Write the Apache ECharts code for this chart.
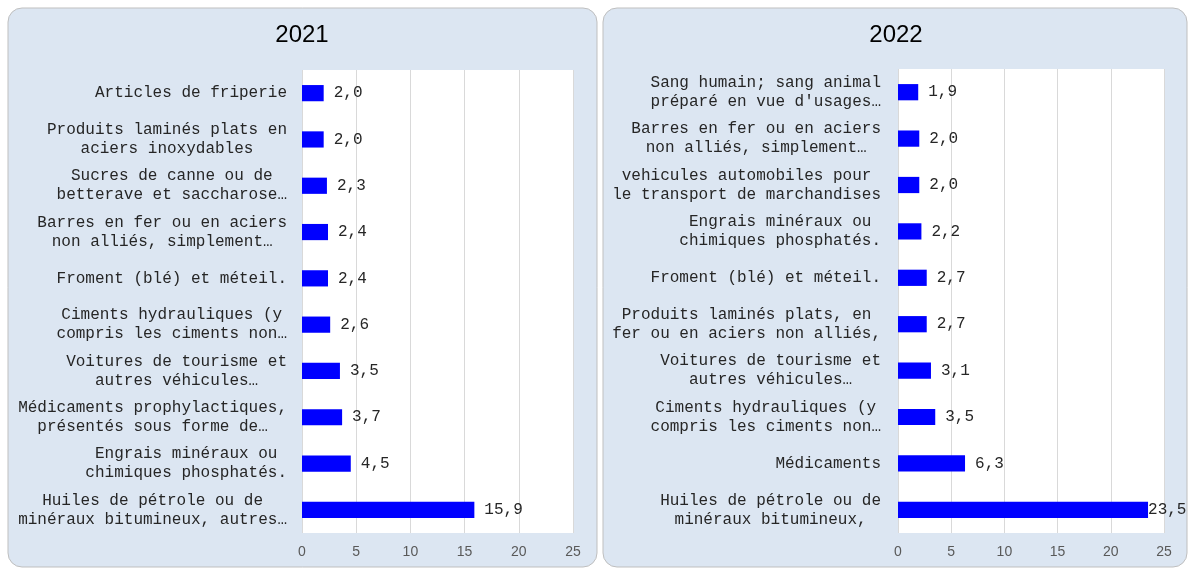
<!DOCTYPE html>
<html>
<head>
<meta charset="utf-8">
<script src="https://cdn.jsdelivr.net/npm/echarts@6/dist/echarts.min.js"></script>
<style>
  html, body { margin: 0; padding: 0; background: #fff; }
  #chart { width: 1189px; height: 568px; }
</style>
</head>
<body>
<div id="chart"></div>
<script>
// 2021 (haut -> bas)
var cats2021 = [
    'Articles de friperie',
    'Produits laminés plats en\naciers inoxydables',
    'Sucres de canne ou de\nbetterave et saccharose…',
    'Barres en fer ou en aciers\nnon alliés, simplement…',
    'Froment (blé) et méteil.',
    'Ciments hydrauliques (y\ncompris les ciments non…',
    'Voitures de tourisme et\nautres véhicules…',
    'Médicaments prophylactiques,\nprésentés sous forme de…',
    'Engrais minéraux ou\nchimiques phosphatés.',
    'Huiles de pétrole ou de\nminéraux bitumineux, autres…'
];
var vals2021 = [2.0, 2.0, 2.3, 2.4, 2.4, 2.6, 3.5, 3.7, 4.5, 15.9];

// 2022 (haut -> bas)
var cats2022 = [
    'Sang humain; sang animal\npréparé en vue d\'usages…',
    'Barres en fer ou en aciers\nnon alliés, simplement…',
    'vehicules automobiles pour\nle transport de marchandises',
    'Engrais minéraux ou\nchimiques phosphatés.',
    'Froment (blé) et méteil.',
    'Produits laminés plats, en\nfer ou en aciers non alliés,',
    'Voitures de tourisme et\nautres véhicules…',
    'Ciments hydrauliques (y\ncompris les ciments non…',
    'Médicaments',
    'Huiles de pétrole ou de\nminéraux bitumineux,'
];
var vals2022 = [1.9, 2.0, 2.0, 2.2, 2.7, 2.7, 3.1, 3.5, 6.3, 23.5];

var titles = ['2021', '2022'];
var xTicks = { min: 0, max: 25, interval: 5 };

var mono = '"Liberation Mono", "DejaVu Sans Mono", monospace';
var narrow = '"Liberation Sans Narrow", "Liberation Sans", sans-serif';

function fmtComma(v) {
    return v.toFixed(1).replace('.', ',');
}

function yAxisFor(idx, cats, margin) {
    return {
        type: 'category',
        gridIndex: idx,
        data: cats,
        inverse: true,
        axisLine: { show: false },
        axisTick: { show: false },
        axisLabel: {
            interval: 0,
            margin: margin,
            formatter: function (v) {
                return v.split('\n').map(function (l) { return '{c|' + l + '}'; }).join('\n');
            },
            rich: {
                c: { align: 'center', fontFamily: mono, fontSize: 16, lineHeight: 19, color: '#262626' }
            }
        }
    };
}

function xAxisFor(idx) {
    return {
        type: 'value',
        gridIndex: idx,
        min: xTicks.min,
        max: xTicks.max,
        interval: xTicks.interval,
        axisLine: { show: false },
        axisTick: { show: false },
        splitLine: { lineStyle: { color: '#d9d9d9', width: 1 } },
        axisLabel: { fontFamily: narrow, fontSize: 14, color: '#595959', margin: 12 }
    };
}

function seriesFor(idx, vals) {
    return {
        type: 'bar',
        xAxisIndex: idx,
        yAxisIndex: idx,
        barWidth: '35%',
        itemStyle: { color: '#0000ff' },
        label: {
            show: true,
            position: 'right',
            distance: 10,
            fontFamily: mono,
            fontSize: 16,
            color: '#262626',
            formatter: function (p) { return fmtComma(p.value); }
        },
        data: vals.map(function (v) {
            // la plus grande barre colle son étiquette au bout
            return v > 20 ? { value: v, label: { distance: 0 } } : v;
        })
    };
}

var chart = echarts.init(document.getElementById('chart'));

var option = {
    backgroundColor: '#ffffff',
    animation: false,
    graphic: [
        { type: 'rect', z: -10, shape: { x: 8, y: 8, width: 589, height: 559, r: 14 },
          style: { fill: '#dce6f2', stroke: '#bfbfbf', lineWidth: 1 } },
        { type: 'rect', z: -10, shape: { x: 603, y: 8, width: 584, height: 559, r: 14 },
          style: { fill: '#dce6f2', stroke: '#bfbfbf', lineWidth: 1 } },
        { type: 'text', x: 302, y: 35,
          style: { text: titles[0], fontFamily: narrow, fontSize: 24, fill: '#000', align: 'center', verticalAlign: 'middle' } },
        { type: 'text', x: 896, y: 35,
          style: { text: titles[1], fontFamily: narrow, fontSize: 24, fill: '#000', align: 'center', verticalAlign: 'middle' } }
    ],
    grid: [
        { left: 302, width: 271, top: 70, height: 463, show: true, backgroundColor: '#ffffff', borderWidth: 0 },
        { left: 898, width: 266, top: 69, height: 464, show: true, backgroundColor: '#ffffff', borderWidth: 0 }
    ],
    xAxis: [xAxisFor(0), xAxisFor(1)],
    yAxis: [yAxisFor(0, cats2021, 15), yAxisFor(1, cats2022, 17)],
    series: [seriesFor(0, vals2021), seriesFor(1, vals2022)]
};

chart.setOption(option);
</script>
</body>
</html>
